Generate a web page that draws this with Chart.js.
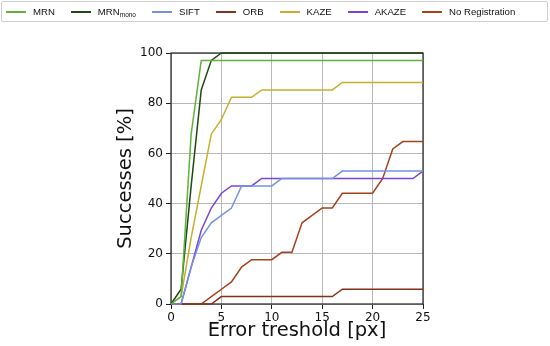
<!DOCTYPE html>
<html>
<head>
<meta charset="utf-8">
<script src="https://cdn.jsdelivr.net/npm/chart.js@4.4.1/dist/chart.umd.min.js"></script>
<style>
  html, body { margin: 0; padding: 0; background: #fff; }
  #wrap { position: relative; width: 550px; height: 346px; }
  #legend {
    position: absolute; left: 1px; top: 1px; width: 547px; height: 21px;
    border: 1px solid #d0d0d0; border-radius: 2px;
    display: flex; align-items: center; gap: 16px; padding-left: 4px;
    box-sizing: border-box;
    font-family: "Liberation Sans", Arial, sans-serif; font-size: 9.6px; color: #111;
  }
  #legend .item { display: flex; align-items: center; white-space: nowrap; }
  #legend .swatch { display: inline-block; width: 20px; height: 2px; margin-right: 7px; }
  #legend sub { font-size: 6.5px; vertical-align: -2px; }
</style>
</head>
<body>
<div id="wrap">
  <canvas id="myChart" width="550" height="346"></canvas>
  <div id="legend"></div>
</div>
<script>
// error threshold in px (x axis)
const thresholds = [0, 1, 2, 3, 4, 5, 6, 7, 8, 9, 10, 11, 12, 13, 14, 15, 16, 17, 18, 19, 20, 21, 22, 23, 24, 25];

// success rate in % per method
const mrn = [0, 2.94, 67.65, 97.06, 97.06, 97.06, 97.06, 97.06, 97.06, 97.06, 97.06, 97.06, 97.06, 97.06, 97.06, 97.06, 97.06, 97.06, 97.06, 97.06, 97.06, 97.06, 97.06, 97.06, 97.06, 97.06];
const mrnMono = [0, 5.88, 47.06, 85.29, 97.06, 100, 100, 100, 100, 100, 100, 100, 100, 100, 100, 100, 100, 100, 100, 100, 100, 100, 100, 100, 100, 100];
const sift = [0, 0, 14.71, 26.47, 32.35, 35.29, 38.24, 47.06, 47.06, 47.06, 47.06, 50, 50, 50, 50, 50, 50, 52.94, 52.94, 52.94, 52.94, 52.94, 52.94, 52.94, 52.94, 52.94];
const orb = [0, 0, 0, 0, 0, 2.94, 2.94, 2.94, 2.94, 2.94, 2.94, 2.94, 2.94, 2.94, 2.94, 2.94, 2.94, 5.88, 5.88, 5.88, 5.88, 5.88, 5.88, 5.88, 5.88, 5.88];
const kaze = [0, 2.94, 26.47, 47.06, 67.65, 73.53, 82.35, 82.35, 82.35, 85.29, 85.29, 85.29, 85.29, 85.29, 85.29, 85.29, 85.29, 88.24, 88.24, 88.24, 88.24, 88.24, 88.24, 88.24, 88.24, 88.24];
const akaze = [0, 0, 14.71, 29.41, 38.24, 44.12, 47.06, 47.06, 47.06, 50, 50, 50, 50, 50, 50, 50, 50, 50, 50, 50, 50, 50, 50, 50, 50, 52.94];
const noRegistration = [0, 0, 0, 0, 2.94, 5.88, 8.82, 14.71, 17.65, 17.65, 17.65, 20.59, 20.59, 32.35, 35.29, 38.24, 38.24, 44.12, 44.12, 44.12, 44.12, 50, 61.76, 64.71, 64.71, 64.71];

const xTicks = [0, 5, 10, 15, 20, 25];
const yTicks = [0, 20, 40, 60, 80, 100];

const series = [
  { name: 'MRN', html: 'MRN', values: mrn, color: '#62b23a' },
  { name: 'MRN_mono', html: 'MRN<sub>mono</sub>', values: mrnMono, color: '#1d4a12' },
  { name: 'SIFT', html: 'SIFT', values: sift, color: '#7393e6' },
  { name: 'ORB', html: 'ORB', values: orb, color: '#86321a' },
  { name: 'KAZE', html: 'KAZE', values: kaze, color: '#c8ae2c' },
  { name: 'AKAZE', html: 'AKAZE', values: akaze, color: '#7846d4' },
  { name: 'No Registration', html: 'No Registration', values: noRegistration, color: '#a8401c' }
];

// legend as html so the subscript works
const legend = document.getElementById('legend');
series.forEach(s => {
  const item = document.createElement('div');
  item.className = 'item';
  item.innerHTML = '<span class="swatch" style="background:' + s.color + '"></span><span>' + s.html + '</span>';
  legend.appendChild(item);
});

// full box around the plot area like matplotlib (drawn under the lines)
const frame = {
  id: 'frame',
  beforeDatasetsDraw(chart) {
    const { ctx, chartArea: a } = chart;
    ctx.save();
    ctx.strokeStyle = '#222';
    ctx.lineWidth = 1.2;
    ctx.strokeRect(a.left, a.top, a.right - a.left, a.bottom - a.top);
    ctx.restore();
  }
};

const tickFont = { family: 'DejaVu Sans', size: 12 };
const titleFont = { family: 'DejaVu Sans', size: 19.5 };

new Chart(document.getElementById('myChart'), {
  type: 'line',
  data: {
    datasets: series.map(s => ({
      label: s.name,
      data: thresholds.map((t, i) => ({ x: t, y: s.values[i] })),
      borderColor: s.color,
      backgroundColor: s.color,
      borderWidth: 1.5,
      pointRadius: 0,
      tension: 0,
      fill: false,
      clip: 2
    }))
  },
  options: {
    responsive: false,
    animation: false,
    layout: { padding: { top: 53, right: 127, left: 0, bottom: 0 } },
    plugins: { legend: { display: false }, tooltip: { enabled: false } },
    scales: {
      x: {
        type: 'linear',
        min: 0, max: 25,
        afterFit(scale) { scale.height = 42; },
        afterBuildTicks(scale) { scale.ticks = xTicks.map(v => ({ value: v })); },
        ticks: { font: tickFont, color: '#111', padding: 2, maxRotation: 0 },
        grid: { color: '#b8b8b8', lineWidth: 1, tickLength: 5, tickColor: '#222' },
        border: { display: false },
        title: { display: true, text: 'Error treshold [px]', font: titleFont, color: '#111', padding: { top: 0, bottom: 3 } }
      },
      y: {
        min: 0, max: 100,
        afterFit(scale) { scale.width = 171; },
        afterBuildTicks(scale) { scale.ticks = yTicks.map(v => ({ value: v })); },
        ticks: { font: tickFont, color: '#111', padding: 3 },
        grid: { color: '#b8b8b8', lineWidth: 1, tickLength: 5, tickColor: '#222' },
        border: { display: false },
        title: { display: true, text: 'Successes [%]', font: titleFont, color: '#111', padding: { top: 114, bottom: 0 } }
      }
    }
  },
  plugins: [frame]
});
</script>
</body>
</html>
